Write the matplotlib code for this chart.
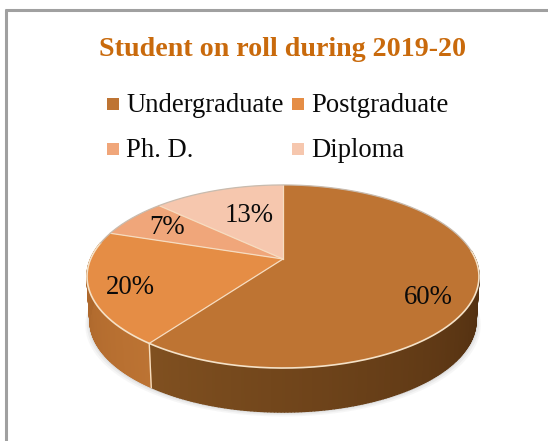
import numpy as np
import matplotlib
matplotlib.use("Agg")
import matplotlib.pyplot as plt
from matplotlib.collections import PolyCollection
from matplotlib.patches import Polygon, Rectangle
from matplotlib.colors import to_rgb

categories = ["Undergraduate", "Postgraduate", "Ph. D.", "Diploma"]
shares = [60, 20, 7, 13]
pct_labels = ["60%", "20%", "7%", "13%"]
top_colors = ["#BE7433", "#E58D45", "#F0A67A", "#F6C7AE"]
side_start = ["#805020", "#BC7333", "#E09A6A", "#F0C0A0"]
side_end = ["#4A2A0E", "#A8642A", "#E09A6A", "#F0C0A0"]

W, H = 548, 441
plt.rcParams["font.family"] = ["Liberation Serif", "DejaVu Serif"]

fig = plt.figure(figsize=(W / 100, H / 100), dpi=100)
ax = fig.add_axes([0, 0, 1, 1])
ax.set_xlim(0, W)
ax.set_ylim(H, 0)
ax.axis("off")

# pie plane seen in perspective: far edge is squeezed, near edge is stretched
CX, CY = 283, 259
RX, RY, K = 192.4, 88.2, 0.191
DEPTH = 44


def rim(theta, scale=1.0, drop=0.0):
    # theta runs clockwise from 12 o'clock, in radians
    u, v = np.sin(theta), np.cos(theta)
    w = 1 + K * v
    return CX + scale * RX * u / w, CY - RY * v / w + drop


def pts(theta, **kw):
    x, y = rim(theta, **kw)
    return np.column_stack([x, y])


fracs = np.cumsum([0] + shares) / sum(shares) * 2 * np.pi

# soft shadow under the near side
t = np.linspace(np.pi * 0.42, np.pi * 1.62, 200)
for grow, a in [(4.5, 0.05), (3, 0.07), (1.5, 0.10)]:
    low = pts(t, scale=0.985 + grow / 190, drop=DEPTH + grow)
    high = pts(t[::-1])
    ax.add_patch(Polygon(np.vstack([low, high]), fc="#606060", ec="none", alpha=a, zorder=1))

# side wall, only where the rim faces the viewer
for i in range(2):
    a = max(fracs[i], np.pi * 0.47)
    b = min(fracs[i + 1], np.pi * 1.56)
    t = np.linspace(a, b, 160)
    quads, cols = [], []
    for j in range(len(t) - 1):
        tt = t[j:j + 2]
        quads.append(np.vstack([pts(tt), pts(tt[::-1], scale=0.985, drop=DEPTH)]))
        f = j / (len(t) - 2)
        # darkest toward the right end of the wall
        c0 = np.array(to_rgb(side_end[i])) if i == 0 else np.array(to_rgb(side_start[i]))
        c1 = np.array(to_rgb(side_start[i])) if i == 0 else np.array(to_rgb(side_end[i]))
        cols.append(c0 * (1 - f) + c1 * f)
    ax.add_collection(PolyCollection(quads, facecolors=cols, edgecolors=cols, linewidths=1.0, zorder=2))

# seam between the two walls
x0, y0 = rim(fracs[1])
x1, y1 = rim(fracs[1], scale=0.985, drop=DEPTH)
ax.plot([x0, x1], [y0, y1], color="#F5DEC0", lw=1.0, zorder=3)

# top face wedges
for i, c in enumerate(top_colors):
    t = np.linspace(fracs[i], fracs[i + 1], 200)
    poly = np.vstack([[CX, CY], pts(t)])
    ax.add_patch(Polygon(poly, fc=c, ec="none", zorder=4))

for i in range(4):
    x, y = rim(fracs[i])
    ax.plot([CX, x], [CY, y], color="#F6DCC0", lw=0.9, zorder=5)

t = np.linspace(np.pi * 0.47, np.pi * 1.56, 300)
ax.plot(*rim(t), color="#F5E2C8", lw=1.2, zorder=5)
t = np.linspace(np.pi * 1.56, np.pi * 2.47, 300)
ax.plot(*rim(t), color="#C8BBAE", lw=0.9, zorder=5)

label_pos = [(428, 297), (130, 287), (167, 228), (249, 216)]
for lab, (x, y) in zip(pct_labels, label_pos):
    ax.text(x, y, lab, fontsize=19.3, color="#0A0A0A", ha="center", va="center", zorder=6)

# frame: only top and left edges
ax.plot([4.5, W], [9.5, 9.5], color="#A0A0A0", lw=2.2, solid_capstyle="butt")
ax.plot([5.5, 5.5], [9, H], color="#A0A0A0", lw=2.2, solid_capstyle="butt")

ax.text(283, 56, "Student on roll during 2019-20", fontsize=20.2, fontweight="bold",
        color="#C96A0C", ha="center", va="baseline")

# legend laid out in two rows
legend_x = [107, 292, 107, 292]
legend_y = [112, 112, 157, 157]
for name, c, x, y in zip(categories, top_colors, legend_x, legend_y):
    ax.add_patch(Rectangle((x, y - 14), 12, 12, fc=c, ec="none"))
    ax.text(x + 19, y, name, fontsize=19.2, color="#0A0A0A", ha="left", va="baseline")

fig.savefig("out.png", dpi=100)
